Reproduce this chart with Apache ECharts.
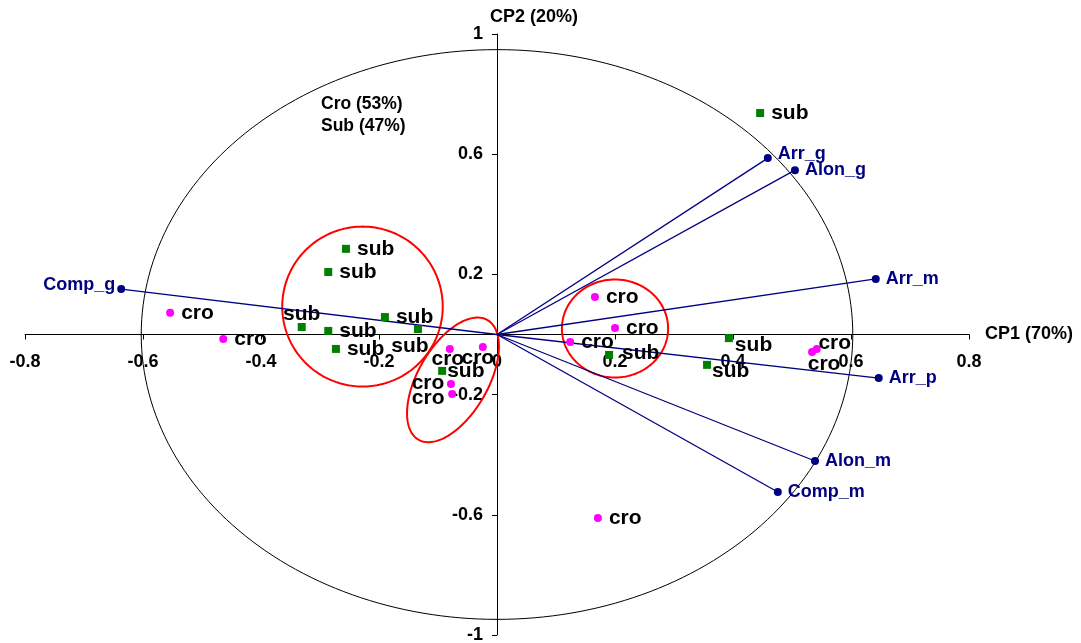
<!DOCTYPE html>
<html><head><meta charset="utf-8">
<script src="https://cdn.jsdelivr.net/npm/echarts@6/dist/echarts.min.js"></script>
<style>html,body{margin:0;padding:0;background:#fff}#c{width:1081px;height:643px}</style>
</head><body><div id="c"></div>
<script>
// ---- data ----
const xAxisName = 'CP1 (70%)';
const yAxisName = 'CP2 (20%)';
const noteLines = ['Cro (53%)', 'Sub (47%)'];

const varNames = ['Comp_g', 'Arr_g', 'Alon_g', 'Arr_m', 'Arr_p', 'Alon_m', 'Comp_m'];
const varX = [-0.637, 0.459, 0.505, 0.642, 0.647, 0.539, 0.476];
const varY = [0.151, 0.587, 0.547, 0.185, -0.145, -0.421, -0.524];

const croX = [-0.554, -0.464, -0.080, -0.024, -0.078, -0.076, 0.166, 0.200, 0.124, 0.534, 0.542, 0.171];
const croY = [0.072, -0.015, -0.048, -0.042, -0.165, -0.198, 0.125, 0.022, -0.025, -0.058, -0.048, -0.611];

const subX = [0.446, -0.256, -0.286, -0.331, -0.286, -0.273, -0.190, -0.134, -0.093, 0.190, 0.393, 0.356];
const subY = [0.737, 0.285, 0.208, 0.025, 0.012, -0.048, 0.058, 0.018, -0.121, -0.068, -0.012, -0.101];

// ellipses: [centerX, centerY, axis1X, axis1Y, axis2X, axis2Y] in data units
const corrEllipse = [[0, 0, 0.603, 0, 0, 0.948]];
const groupEllipses = [
  [-0.228, 0.093, 0.136, 0, 0, 0.266],
  [-0.0746, -0.151, 0.0585, 0.199, -0.0514, 0.0583],
  [0.200, 0.020, 0.090, 0, 0, 0.163]
];

// ---- axis ranges ----
const X_MIN = -0.8, X_MAX = 0.8, X_STEP = 0.2;
const Y_MIN = -1, Y_MAX = 1, Y_STEP = 0.4;

// ---- layout ----
const W = 1081, H = 643;
const G = {left: 25, right: 112, top: 34, bottom: 8};
const gridW = W - G.left - G.right, gridH = H - G.top - G.bottom;
const xAxisOffset = -gridH * (0 - Y_MIN) / (Y_MAX - Y_MIN);
const yAxisOffset = -gridW * (0 - X_MIN) / (X_MAX - X_MIN);

// ---- label placement tweaks (style, not data) ----
const croLabelAdjust = {
  2: {position: 'inside', offset: [-2, 10]},
  3: {position: 'inside', offset: [-5, 11]},
  4: {position: 'inside', offset: [-23, -1]},
  5: {position: 'inside', offset: [-24, 4]},
  9: {position: 'inside', offset: [12, 12]},
  10: {position: 'inside', offset: [18, -6]}
};
const subLabelAdjust = {
  3: {position: 'inside', offset: [0, -13]},
  7: {position: 'inside', offset: [-8, 17]},
  8: {distance: 1},
  9: {distance: 9, offset: [0, -2]},
  10: {distance: 2, offset: [0, 7]},
  11: {distance: 1, offset: [0, 6]}
};
const varLabelAdjust = {
  0: {position: 'left', distance: 2, offset: [0, -4]},
  1: {offset: [0, -4]}
};

const FONT = '"Liberation Sans", Arial, sans-serif';

function buildPoints(xs, ys, adjust) {
  return xs.map((x, i) => {
    const item = {value: [x, ys[i]]};
    if (adjust[i]) item.label = adjust[i];
    return item;
  });
}

function ellipseRender(color, width) {
  return function (params, api) {
    const cx = api.value(0), cy = api.value(1);
    const ux = api.value(2), uy = api.value(3), vx = api.value(4), vy = api.value(5);
    const c = api.coord([cx, cy]);
    const pu = api.coord([cx + ux, cy + uy]);
    const pv = api.coord([cx + vx, cy + vy]);
    const U = [pu[0] - c[0], pu[1] - c[1]], V = [pv[0] - c[0], pv[1] - c[1]];
    const pts = [];
    for (let i = 0; i < 240; i++) {
      const t = i / 240 * 2 * Math.PI;
      pts.push([c[0] + U[0] * Math.cos(t) + V[0] * Math.sin(t), c[1] + U[1] * Math.cos(t) + V[1] * Math.sin(t)]);
    }
    return {type: 'polygon', shape: {points: pts}, style: {fill: 'none', stroke: color, lineWidth: width}};
  };
}

const chart = echarts.init(document.getElementById('c'), null, {renderer: 'canvas'});
const labelFont = {fontFamily: FONT, fontWeight: 'bold', color: '#000'};

chart.setOption({
  animation: false,
  backgroundColor: '#fff',
  grid: {left: G.left, right: G.right, top: G.top, bottom: G.bottom, containLabel: false, outerBoundsMode: 'none'},
  xAxis: {
    type: 'value', min: X_MIN, max: X_MAX, interval: X_STEP,
    position: 'bottom', offset: xAxisOffset,
    axisLine: {onZero: false, lineStyle: {color: '#000', width: 1}},
    axisTick: {show: true, length: 5, lineStyle: {color: '#000'}},
    axisLabel: Object.assign({fontSize: 18, margin: 19}, labelFont),
    splitLine: {show: false},
    name: xAxisName, nameLocation: 'end', nameGap: 16,
    nameTextStyle: Object.assign({fontSize: 18}, labelFont)
  },
  yAxis: {
    type: 'value', min: Y_MIN, max: Y_MAX, interval: Y_STEP,
    position: 'left', offset: yAxisOffset,
    axisLine: {onZero: false, lineStyle: {color: '#000', width: 1}},
    axisTick: {show: true, length: 5, lineStyle: {color: '#000'}},
    axisLabel: Object.assign({fontSize: 18, margin: 14}, labelFont),
    splitLine: {show: false},
    name: yAxisName, nameLocation: 'end', nameGap: 8,
    nameTextStyle: Object.assign({fontSize: 18, align: 'left', padding: [0, 0, 0, -7]}, labelFont)
  },
  graphic: [
    {type: 'text', left: 321, top: 95, style: {text: noteLines[0], font: 'bold 17.5px ' + FONT, fill: '#000'}},
    {type: 'text', left: 321, top: 117, style: {text: noteLines[1], font: 'bold 17.5px ' + FONT, fill: '#000'}}
  ],
  series: [
    {
      type: 'custom', name: 'corr', renderItem: ellipseRender('#000', 1),
      encode: {x: 0, y: 1}, data: corrEllipse, silent: true, z: 1
    },
    {
      type: 'custom', name: 'groups', renderItem: ellipseRender('#ff0000', 2),
      encode: {x: 0, y: 1}, data: groupEllipses, silent: true, z: 2
    },
    {
      type: 'custom', name: 'vectors',
      renderItem: function (params, api) {
        const o = api.coord([0, 0]);
        const p = api.coord([api.value(0), api.value(1)]);
        return {type: 'line', shape: {x1: o[0], y1: o[1], x2: p[0], y2: p[1]},
          style: {stroke: '#000080', lineWidth: 1.3}};
      },
      encode: {x: 0, y: 1},
      data: varX.map((x, i) => [x, varY[i]]), silent: true, z: 3
    },
    {
      type: 'scatter', name: 'vars', symbol: 'circle', symbolSize: 8,
      itemStyle: {color: '#000080', opacity: 1},
      label: {show: true, position: 'right', distance: 6, fontSize: 18, fontWeight: 'bold',
        fontFamily: FONT, color: '#000080', formatter: p => varNames[p.dataIndex]},
      data: buildPoints(varX, varY, varLabelAdjust), z: 4
    },
    {
      type: 'scatter', name: 'cro', symbol: 'circle', symbolSize: 8,
      itemStyle: {color: '#ff00ff', opacity: 1},
      label: {show: true, position: 'right', distance: 7, fontSize: 21, fontWeight: 'bold',
        fontFamily: FONT, color: '#000', formatter: 'cro'},
      data: buildPoints(croX, croY, croLabelAdjust), z: 5
    },
    {
      type: 'scatter', name: 'sub', symbol: 'rect', symbolSize: 8,
      itemStyle: {color: '#008000', opacity: 1},
      label: {show: true, position: 'right', distance: 7, fontSize: 21, fontWeight: 'bold',
        fontFamily: FONT, color: '#000', formatter: 'sub'},
      data: buildPoints(subX, subY, subLabelAdjust), z: 5
    }
  ]
});
</script>
</body></html>
